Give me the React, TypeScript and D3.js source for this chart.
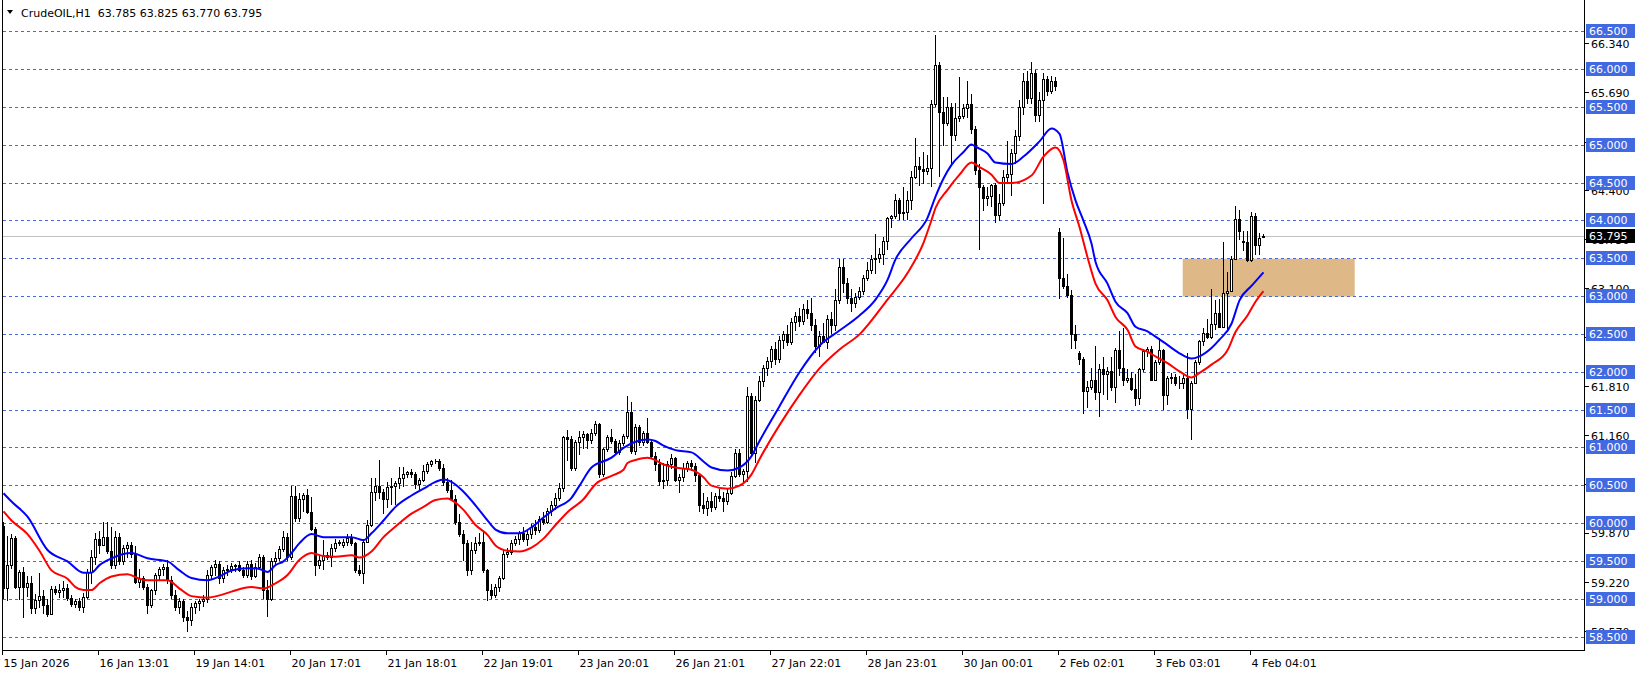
import React from 'react';
import * as d3 from 'd3';

const W = 1641;
const H = 674;

const symbolTitle = 'CrudeOIL,H1  63.785 63.825 63.770 63.795';

const opens = [
59.97,59.15,59.45,59.81,59.16,59.36,59.16,59.22,58.88,58.99,
59.04,58.92,58.81,59.13,59.10,59.12,59.15,59.01,58.93,58.98,
58.90,59.03,59.36,59.56,59.80,59.72,59.82,59.64,59.45,59.82,
59.50,59.68,59.72,59.60,59.23,59.28,59.16,58.92,59.12,59.32,
59.40,59.43,59.25,59.05,58.90,58.98,58.76,58.72,58.90,58.95,
58.97,59.00,59.32,59.42,59.46,59.28,59.38,59.40,59.44,59.45,
59.39,59.32,59.46,59.30,59.42,59.56,59.12,59.00,59.50,59.55,
59.66,59.82,59.56,60.37,60.07,60.33,60.38,60.15,59.93,59.45,
59.52,59.58,59.56,59.67,59.74,59.72,59.76,59.81,59.74,59.38,
59.34,59.76,59.98,60.42,60.50,60.42,60.32,60.48,60.50,60.54,
60.60,60.66,60.68,60.66,60.52,60.57,60.70,60.79,60.82,60.83,
60.74,60.55,60.44,60.33,60.02,59.86,59.74,59.39,59.65,59.74,
59.76,59.38,59.12,59.05,59.16,59.28,59.60,59.62,59.74,59.80,
59.88,59.80,59.86,59.95,59.92,60.06,60.02,60.16,60.25,60.34,
60.47,61.14,61.12,60.74,61.08,61.14,61.18,61.10,61.20,61.31,
60.66,60.98,61.14,61.09,60.94,61.07,61.16,61.47,60.96,61.28,
61.08,61.20,61.08,60.89,60.78,60.56,60.58,60.78,60.86,60.57,
60.61,60.74,60.80,60.76,60.64,60.25,60.20,60.30,60.22,60.36,
60.34,60.30,60.40,60.63,60.93,60.66,60.70,61.68,60.93,61.63,
61.88,62.05,62.15,62.30,62.18,62.42,62.50,62.40,62.66,62.74,
62.68,62.84,62.78,62.62,62.35,62.48,62.40,62.70,62.62,62.96,
63.39,63.18,62.98,62.92,63.00,63.07,63.25,63.35,63.50,63.51,
63.56,63.73,64.04,64.06,64.28,64.10,64.12,64.28,64.58,64.73,
64.68,64.66,64.70,65.54,66.06,65.44,65.29,65.50,65.14,65.36,
65.38,65.49,65.55,65.22,64.67,64.45,64.30,64.33,64.47,64.08,
64.24,64.58,64.62,64.90,65.12,65.50,65.85,65.62,65.95,65.40,
65.60,65.88,65.72,65.85,63.85,63.25,63.14,63.02,62.50,62.25,
62.18,61.75,61.80,61.90,61.74,62.04,61.97,62.02,61.80,62.29,
62.05,61.90,61.92,61.78,61.66,62.04,62.28,62.30,61.90,62.14,
62.29,61.70,61.92,61.94,61.86,61.86,61.92,61.51,61.86,62.13,
62.41,62.52,62.46,62.64,62.78,62.60,63.05,63.07,63.50,64.03,
63.74,63.72,63.48,64.07,63.68,63.785
];

const highs = [
60.02,59.84,59.86,59.84,59.38,59.42,59.30,59.30,59.07,59.34,
59.12,59.00,59.18,59.18,59.20,59.24,59.20,59.05,59.00,59.02,
59.08,59.40,59.65,59.88,59.90,60.02,60.02,59.95,59.90,59.88,
59.72,59.76,59.76,59.70,59.40,59.30,59.20,59.14,59.34,59.42,
59.46,59.52,59.30,59.12,59.02,59.00,58.85,58.95,58.98,59.00,
59.05,59.38,59.45,59.52,59.50,59.42,59.45,59.48,59.47,59.50,
59.42,59.50,59.52,59.48,59.60,59.58,59.25,59.55,59.62,59.70,
59.90,59.88,60.50,60.50,60.40,60.40,60.45,60.35,59.95,59.58,
59.78,59.62,59.73,59.80,59.78,59.80,59.86,59.86,59.76,59.45,
59.80,60.04,60.60,60.60,60.84,60.46,60.55,60.60,60.56,60.75,
60.75,60.70,60.72,60.68,60.60,60.77,60.81,60.84,60.85,60.85,
60.78,60.60,60.58,60.38,60.12,59.92,59.78,59.75,59.82,59.88,
59.90,59.40,59.20,59.20,59.30,59.66,59.68,59.78,59.84,59.90,
59.95,59.92,60.00,60.05,60.10,60.15,60.20,60.30,60.40,60.54,
61.16,61.23,61.16,61.10,61.22,61.22,61.20,61.25,61.36,61.33,
61.00,61.17,61.25,61.12,61.10,61.18,61.69,61.60,61.32,61.30,
61.22,61.39,61.10,60.95,60.85,60.80,60.82,60.92,60.88,60.65,
60.80,60.82,60.84,60.80,60.66,60.40,60.35,60.42,60.40,60.45,
60.42,60.45,60.68,60.98,60.98,60.72,61.80,61.72,61.68,61.95,
62.10,62.20,62.35,62.40,62.48,62.55,62.62,62.72,62.80,62.85,
62.90,62.95,62.98,62.70,62.55,62.65,62.75,62.80,63.10,63.50,
63.50,63.24,63.10,63.05,63.12,63.29,63.45,63.55,63.82,63.64,
63.79,64.05,64.08,64.35,64.30,64.45,64.39,64.66,65.09,64.85,
64.91,64.87,65.60,66.46,66.10,65.64,65.64,65.56,65.56,65.90,
65.54,65.85,65.68,65.25,64.75,64.47,64.45,64.49,64.50,64.36,
64.67,65.05,64.95,65.20,65.60,65.95,65.98,66.10,66.00,65.70,
65.95,65.92,65.92,65.90,63.90,63.78,63.30,63.08,62.62,62.28,
62.20,61.88,62.05,62.35,62.11,62.20,62.07,62.20,62.32,62.54,
62.58,62.04,62.00,61.98,62.06,62.30,62.33,62.35,62.16,62.45,
62.30,61.95,61.99,61.97,61.95,61.98,62.25,61.88,62.16,62.42,
62.58,62.70,63.10,62.95,62.97,63.72,63.32,63.54,64.19,64.14,
63.87,63.87,64.12,64.10,63.84,63.825
];

const lows = [
59.00,58.97,59.40,59.14,58.99,58.75,59.03,58.81,58.81,58.88,
58.81,58.77,58.79,59.05,59.02,59.02,58.98,58.90,58.88,58.85,
58.82,59.00,59.20,59.45,59.60,59.70,59.60,59.40,59.40,59.45,
59.45,59.55,59.55,59.20,59.15,59.12,58.80,58.88,59.05,59.25,
59.30,59.20,59.00,58.85,58.80,58.70,58.57,58.65,58.80,58.85,
58.90,58.95,59.25,59.30,59.20,59.22,59.30,59.35,59.36,59.36,
59.28,59.28,59.25,59.28,59.38,59.00,58.77,58.98,59.45,59.50,
59.62,59.50,59.52,60.02,60.02,60.15,60.12,59.90,59.30,59.40,
59.38,59.52,59.42,59.62,59.70,59.68,59.70,59.70,59.35,59.30,
59.20,59.74,59.95,60.30,60.32,60.12,60.20,60.25,60.25,60.45,
60.48,60.60,60.60,60.45,60.44,60.55,60.65,60.75,60.78,60.70,
60.50,60.40,60.30,59.98,59.82,59.50,59.30,59.32,59.60,59.70,
59.35,58.97,59.00,59.02,59.10,59.25,59.55,59.58,59.70,59.72,
59.75,59.70,59.80,59.85,59.88,59.98,60.00,60.10,60.18,60.30,
60.42,60.83,60.70,60.70,60.90,60.98,60.98,61.05,61.15,60.60,
60.62,60.95,61.05,60.92,60.90,61.02,61.12,60.92,60.90,61.02,
61.02,61.05,60.85,60.70,60.50,60.45,60.50,60.72,60.55,60.40,
60.55,60.68,60.70,60.55,60.15,60.12,60.10,60.15,60.18,60.28,
60.15,60.25,60.38,60.60,60.62,60.55,60.55,60.90,60.80,61.60,
61.80,61.95,62.05,62.10,62.12,62.30,62.35,62.36,62.55,62.60,
62.62,62.70,62.55,62.25,62.20,62.38,62.30,62.50,62.55,62.90,
63.05,62.90,62.80,62.85,62.95,63.02,63.20,63.30,63.30,63.44,
63.42,63.62,63.90,64.02,64.01,64.01,64.01,64.14,64.55,64.46,
64.49,64.60,64.45,65.50,64.58,64.99,65.25,64.75,65.05,65.30,
65.34,65.36,65.15,64.60,63.62,64.13,64.20,64.18,63.97,64.00,
64.20,64.50,64.33,64.75,65.05,65.40,65.55,65.55,65.30,65.30,
64.22,65.65,65.68,65.72,62.97,63.10,62.98,62.30,62.30,62.10,
61.45,61.52,61.77,61.63,61.41,61.70,61.63,61.75,61.59,61.95,
61.82,61.86,61.75,61.55,61.56,62.00,62.20,61.88,61.88,62.10,
61.50,61.57,61.85,61.82,61.78,61.78,61.38,61.11,61.84,62.10,
62.35,62.44,62.44,62.56,62.58,62.58,62.54,63.06,63.48,63.75,
63.60,63.46,63.46,63.55,63.55,63.77
];

const closes = [
59.15,59.45,59.81,59.16,59.36,59.16,59.22,58.88,58.99,59.04,
58.92,58.81,59.13,59.10,59.12,59.15,59.01,58.93,58.98,58.90,
59.03,59.36,59.56,59.80,59.72,59.82,59.64,59.45,59.82,59.50,
59.68,59.72,59.60,59.23,59.28,59.16,58.92,59.12,59.32,59.40,
59.43,59.25,59.05,58.90,58.98,58.76,58.72,58.90,58.95,58.97,
59.00,59.32,59.42,59.46,59.28,59.38,59.40,59.44,59.45,59.39,
59.32,59.46,59.30,59.42,59.56,59.12,59.00,59.50,59.55,59.66,
59.82,59.56,60.37,60.07,60.33,60.38,60.15,59.93,59.45,59.52,
59.58,59.56,59.67,59.74,59.75,59.76,59.81,59.74,59.38,59.34,
59.76,59.98,60.42,60.50,60.42,60.32,60.48,60.50,60.54,60.60,
60.66,60.68,60.66,60.52,60.57,60.70,60.79,60.82,60.83,60.74,
60.55,60.44,60.33,60.02,59.86,59.74,59.39,59.65,59.74,59.76,
59.38,59.12,59.05,59.16,59.28,59.60,59.62,59.74,59.80,59.88,
59.80,59.86,59.95,59.92,60.06,60.02,60.16,60.25,60.34,60.47,
61.14,61.12,60.74,61.08,61.14,61.18,61.10,61.20,61.31,60.66,
60.98,61.14,61.09,60.94,61.07,61.16,61.47,60.96,61.28,61.08,
61.20,61.08,60.89,60.78,60.56,60.58,60.78,60.86,60.57,60.61,
60.74,60.80,60.76,60.64,60.25,60.20,60.30,60.22,60.36,60.34,
60.30,60.40,60.63,60.93,60.66,60.70,61.68,60.93,61.63,61.88,
62.05,62.15,62.30,62.18,62.42,62.50,62.40,62.66,62.74,62.68,
62.84,62.78,62.62,62.35,62.48,62.40,62.70,62.62,62.96,63.39,
63.18,62.98,62.92,63.00,63.07,63.25,63.35,63.50,63.51,63.56,
63.73,64.04,64.06,64.28,64.10,64.12,64.28,64.58,64.73,64.68,
64.66,64.70,65.54,66.06,65.44,65.29,65.50,65.14,65.36,65.38,
65.49,65.55,65.22,64.67,64.45,64.30,64.33,64.47,64.08,64.24,
64.58,64.62,64.90,65.12,65.50,65.85,65.62,65.95,65.40,65.60,
65.88,65.72,65.85,65.78,63.25,63.14,63.02,62.50,62.43,62.18,
61.75,61.80,61.90,61.74,62.04,61.97,62.02,61.80,62.29,62.05,
61.90,61.92,61.78,61.66,62.04,62.28,62.30,61.90,62.14,62.29,
61.70,61.92,61.94,61.86,61.86,61.92,61.51,61.86,62.13,62.41,
62.52,62.46,62.64,62.78,62.60,63.05,63.07,63.50,64.03,63.87,
63.72,63.48,64.07,63.68,63.78,63.795
];

// Moving average lines at these bar indices
const blueBars = [0,2,6,11,16,20,22,24,27,32,36,41,44,47,51,54,57,61,64,66,68,70,72,74,77,80,85,87,90,92,95,98,102,105,108,110,112,115,118,121,123,126,129,132,135,138,142,144,147,152,155,158,161,163,165,168,172,175,177,181,184,187,189,194,199,204,209,214,218,221,223,227,231,233,235,237,240,242,243,246,248,252,255,259,262,264,266,268,270,272,273,276,278,281,283,286,288,291,294,297,299,302,304,307,309,312,315];
const blueVals = [60.40,60.29,60.09,59.65,59.50,59.35,59.35,59.45,59.54,59.61,59.54,59.50,59.38,59.28,59.25,59.30,59.38,59.41,59.40,59.36,59.45,59.50,59.61,59.74,59.86,59.82,59.82,59.82,59.78,59.87,60.04,60.22,60.37,60.46,60.55,60.58,60.55,60.42,60.24,60.04,59.92,59.87,59.87,59.95,60.08,60.20,60.34,60.50,60.74,60.87,61.00,61.08,61.11,61.09,61.03,60.97,60.94,60.82,60.74,60.70,60.74,60.89,61.09,61.55,62.00,62.35,62.55,62.75,62.96,63.22,63.49,63.77,64.04,64.32,64.56,64.74,64.91,65.01,64.98,64.89,64.77,64.75,64.85,65.05,65.22,65.15,64.64,64.27,64.00,63.70,63.46,63.17,62.93,62.78,62.60,62.54,62.47,62.36,62.25,62.18,62.21,62.32,62.43,62.64,62.95,63.14,63.32];
const redBars = [0,2,6,9,12,16,18,20,22,24,27,31,34,36,41,44,47,51,54,57,62,65,68,71,74,77,80,83,87,89,92,95,98,102,105,108,111,112,115,118,121,123,126,129,132,135,138,141,145,148,152,155,156,158,161,162,165,168,172,175,177,181,184,187,189,194,199,204,209,214,221,226,230,232,233,236,239,242,244,247,249,252,257,260,263,265,267,269,271,273,276,278,281,283,286,288,291,294,297,299,302,306,308,311,313,315];
const redVals = [60.16,60.04,59.86,59.64,59.38,59.27,59.16,59.12,59.12,59.21,59.30,59.33,59.27,59.25,59.25,59.14,59.04,59.02,59.05,59.10,59.16,59.14,59.21,59.32,59.52,59.61,59.57,59.56,59.58,59.55,59.63,59.82,59.96,60.13,60.22,60.31,60.33,60.31,60.18,59.98,59.85,59.71,59.64,59.63,59.68,59.80,59.98,60.15,60.32,60.52,60.63,60.71,60.80,60.84,60.87,60.86,60.78,60.74,60.71,60.61,60.50,60.46,60.50,60.65,60.85,61.30,61.70,62.05,62.30,62.50,62.96,63.31,63.71,64.01,64.17,64.41,64.61,64.77,64.71,64.61,64.50,64.50,64.60,64.85,64.97,64.80,64.27,63.92,63.52,63.17,62.95,62.73,62.56,62.34,62.27,62.21,62.12,62.01,61.93,61.99,62.10,62.29,62.53,62.75,62.93,63.07];

const levelPrices = [58.5,59.0,59.5,60.0,60.5,61.0,61.5,62.0,62.5,63.0,63.5,64.0,64.5,65.0,65.5,66.0,66.5];
const axisTicks = [66.34,65.69,65.04,64.40,63.75,63.10,62.46,61.81,61.16,60.51,59.87,59.22,58.57];

const timeLabels = ['15 Jan 2026','16 Jan 13:01','19 Jan 14:01','20 Jan 17:01','21 Jan 18:01','22 Jan 19:01','23 Jan 20:01','26 Jan 21:01','27 Jan 22:01','28 Jan 23:01','30 Jan 00:01','2 Feb 02:01','3 Feb 03:01','4 Feb 04:01'];
const timeLabelBars = [0,24,48,72,96,120,144,168,192,216,240,264,288,312];

const zoneTop = 63.5;
const zoneBottom = 63.0;
const zoneStartBar = 294.8;
const zoneEndBar = 337.8;

const FONT = '"DejaVu Sans", Verdana, sans-serif';
const LEVEL_BLUE = '#4169E1';

export default function App() {
  const n = closes.length;
  const plotLeft = 2.5;
  const plotRight = 1584.5;
  const plotBottom = 650.5;

  const x = d3.scaleLinear().domain([0, n - 1]).range([3.5, 3.5 + 4 * (n - 1)]);
  const y = d3.scaleLinear().domain([58.5, 66.5]).range([637, 31.7]);
  const py = (p: number) => Math.floor(y(p)) + 0.5;

  const lineGen = d3
    .line<[number, number]>()
    .x((d) => x(d[0]))
    .y((d) => y(d[1]))
    .curve(d3.curveMonotoneX);

  const bluePts: [number, number][] = blueBars.map((b, i) => [b, blueVals[i]]);
  const redPts: [number, number][] = redBars.map((b, i) => [b, redVals[i]]);

  const lastPrice = closes[n - 1];

  return (
    <div style={{ position: 'absolute', left: 0, top: 0 }}>
      <svg width={W} height={H} style={{ display: 'block', background: '#fff' }}>
        <rect x={0} y={0} width={W} height={H} fill="#fff" />
        <rect
          x={x(zoneStartBar)}
          y={y(zoneTop)}
          width={x(zoneEndBar) - x(zoneStartBar)}
          height={y(zoneBottom) - y(zoneTop)}
          fill="#DEB887"
        />
        {levelPrices.map((p) => (
          <line
            key={'lv' + p}
            x1={plotLeft}
            x2={plotRight}
            y1={py(p)}
            y2={py(p)}
            stroke={LEVEL_BLUE}
            strokeWidth={1}
            strokeDasharray="3,3"
            shapeRendering="crispEdges"
          />
        ))}
        <line
          x1={plotLeft}
          x2={plotRight}
          y1={py(lastPrice)}
          y2={py(lastPrice)}
          stroke="#C0C0C0"
          strokeWidth={1}
          shapeRendering="crispEdges"
        />
        <g shapeRendering="crispEdges">
          {closes.map((c, i) => {
            const o = opens[i];
            const xc = x(i);
            const top = Math.round(y(Math.max(o, c)));
            const bot = Math.round(y(Math.min(o, c)));
            const bull = c >= o;
            return (
              <g key={'c' + i}>
                <line x1={xc} x2={xc} y1={Math.round(y(highs[i]))} y2={Math.round(y(lows[i]))} stroke="#000" strokeWidth={1} />
                {bot - top < 1 ? (
                  <line x1={xc - 1} x2={xc + 2} y1={top + 0.5} y2={top + 0.5} stroke="#000" strokeWidth={1} />
                ) : (
                  <rect
                    x={xc - 1}
                    y={top + 0.5}
                    width={2}
                    height={Math.max(1, bot - top)}
                    fill={bull ? '#fff' : '#000'}
                    stroke="#000"
                    strokeWidth={1}
                  />
                )}
              </g>
            );
          })}
        </g>
        <path d={lineGen(bluePts) || ''} fill="none" stroke="#0000FF" strokeWidth={2} />
        <path d={lineGen(redPts) || ''} fill="none" stroke="#FF0000" strokeWidth={2} />

        <g shapeRendering="crispEdges" stroke="#000" strokeWidth={1}>
          <line x1={plotLeft} x2={plotLeft} y1={0} y2={plotBottom} />
          <line x1={plotRight} x2={plotRight} y1={0} y2={plotBottom} />
          <line x1={plotLeft} x2={plotRight} y1={plotBottom} y2={plotBottom} />
        </g>

        {axisTicks.map((p) => (
          <g key={'at' + p}>
            <line x1={plotRight} x2={plotRight + 4} y1={py(p)} y2={py(p)} stroke="#000" shapeRendering="crispEdges" />
            <text x={1591} y={y(p) + 4} fontFamily={FONT} fontSize={11} fill="#000">
              {p.toFixed(3)}
            </text>
          </g>
        ))}
        {levelPrices.map((p) => (
          <g key={'ll' + p}>
            <rect x={1586} y={Math.floor(y(p)) - 7} width={49} height={14} fill={LEVEL_BLUE} />
            <text x={1589} y={Math.floor(y(p)) + 4} fontFamily={FONT} fontSize={11} fill="#fff">
              {p.toFixed(3)}
            </text>
          </g>
        ))}
        <rect x={1586} y={Math.floor(y(lastPrice)) - 7} width={49} height={14} fill="#000" />
        <text x={1589} y={Math.floor(y(lastPrice)) + 4} fontFamily={FONT} fontSize={11} fill="#fff">
          {lastPrice.toFixed(3)}
        </text>

        {timeLabels.map((t, k) => {
          const tx = Math.floor(x(timeLabelBars[k])) - 0.5;
          return (
            <g key={'tl' + k}>
              <line x1={tx} x2={tx} y1={plotBottom} y2={plotBottom + 4} stroke="#000" shapeRendering="crispEdges" />
              <text x={tx + 1} y={667} fontFamily={FONT} fontSize={11} fill="#000">
                {t}
              </text>
            </g>
          );
        })}

        <path d="M7,10 L13,10 L10,14 Z" fill="#000" />
        <text x={21} y={17} fontFamily={FONT} fontSize={11} fill="#000" style={{ whiteSpace: 'pre' }}>
          {symbolTitle}
        </text>
      </svg>
    </div>
  );
}
